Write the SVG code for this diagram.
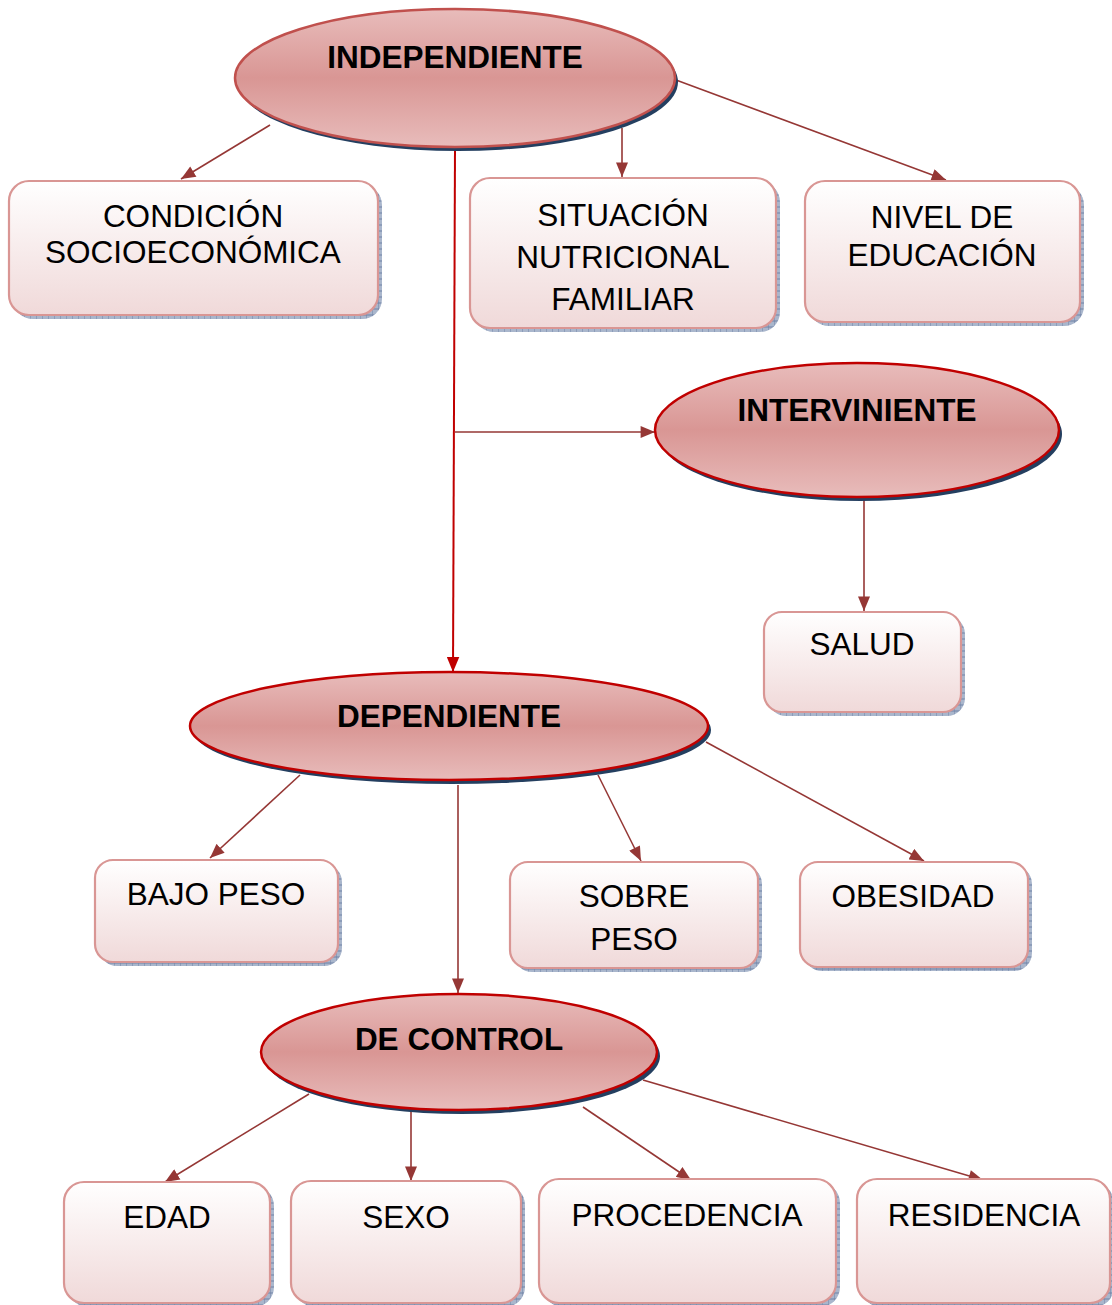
<svg xmlns="http://www.w3.org/2000/svg" width="1112" height="1305" viewBox="0 0 1112 1305">
<defs>
<linearGradient id="eg" x1="0" y1="0" x2="0" y2="1">
<stop offset="0" stop-color="#e8bcbb"/>
<stop offset="0.5" stop-color="#d99694"/>
<stop offset="1" stop-color="#e8bcbb"/>
</linearGradient>
<linearGradient id="bg" x1="0" y1="0" x2="0" y2="1">
<stop offset="0" stop-color="#ffffff"/>
<stop offset="1" stop-color="#f0d9d9"/>
</linearGradient>
<pattern id="hatch" width="6" height="6" patternUnits="userSpaceOnUse">
<rect width="6" height="6" fill="#a9b6cc"/>
<path d="M0 0V6M0 3H6" stroke="#6f83a6" stroke-width="1"/>
</pattern>
<marker id="ah" viewBox="0 0 12 10" refX="12" refY="5" markerWidth="15" markerHeight="12" markerUnits="userSpaceOnUse" orient="auto">
<path d="M0 0L12 5L0 10Z" fill="#953735"/>
</marker>
<marker id="ahr" viewBox="0 0 12 10" refX="12" refY="5" markerWidth="15" markerHeight="13" markerUnits="userSpaceOnUse" orient="auto">
<path d="M0 0L12 5L0 10Z" fill="#c00000"/>
</marker>
</defs>
<style>
.eshadow{fill:#243f60}
.ell{fill:url(#eg);stroke:#c00000;stroke-width:2.5}
.ell1{fill:url(#eg);stroke:#c0504d;stroke-width:2.5}
.bshadow{fill:url(#hatch)}
.box{fill:url(#bg);stroke:#d99694;stroke-width:2.2}
.et{font-family:"Liberation Sans",Arial,sans-serif;font-weight:bold;font-size:31.5px;fill:#000;text-anchor:middle}
.bt{font-family:"Liberation Sans",Arial,sans-serif;font-size:31.5px;fill:#000;text-anchor:middle}
.c{stroke:#953735;stroke-width:1.6;fill:none;marker-end:url(#ah)}
.cr{stroke:#c00000;stroke-width:2;fill:none;marker-end:url(#ahr)}
</style>
<rect width="1112" height="1305" fill="#ffffff"/>

<g id="connectors">
<line class="c" x1="270" y1="125" x2="181" y2="179"/>
<line class="c" x1="622" y1="128" x2="622" y2="177"/>
<line class="c" x1="676" y1="80" x2="946" y2="180"/>
<line class="cr" x1="455" y1="147" x2="453" y2="672"/>
<line class="c" x1="455" y1="432" x2="655" y2="432"/>
<line class="c" x1="864" y1="499" x2="864" y2="611"/>
<line class="c" x1="300" y1="775" x2="210" y2="858"/>
<line class="c" x1="458" y1="785" x2="458" y2="993"/>
<line class="c" x1="598" y1="775" x2="641" y2="861"/>
<line class="c" x1="706" y1="742" x2="924" y2="861"/>
<line class="c" x1="309" y1="1094" x2="165" y2="1182"/>
<line class="c" x1="411" y1="1107" x2="411" y2="1181"/>
<line class="c" x1="583" y1="1107" x2="691" y2="1180"/>
<line class="c" x1="643" y1="1080" x2="983" y2="1180"/>
</g>

<g id="n-independiente">
<ellipse class="eshadow" cx="458" cy="82" rx="220" ry="69"/>
<ellipse class="ell1" cx="455" cy="78" rx="220" ry="69"/>
<text class="et" x="455" y="68">INDEPENDIENTE</text>
</g>

<g id="n-condicion">
<rect class="bshadow" x="13" y="185" width="369" height="134" rx="20"/>
<rect class="box" x="9" y="181" width="369" height="134" rx="20"/>
<text class="bt" x="193" y="227">CONDICIÓN</text>
<text class="bt" x="193" y="263">SOCIOECONÓMICA</text>
</g>

<g id="n-situacion">
<rect class="bshadow" x="474" y="182" width="306" height="150" rx="20"/>
<rect class="box" x="470" y="178" width="306" height="150" rx="20"/>
<text class="bt" x="623" y="226">SITUACIÓN</text>
<text class="bt" x="623" y="268">NUTRICIONAL</text>
<text class="bt" x="623" y="310">FAMILIAR</text>
</g>

<g id="n-nivel">
<rect class="bshadow" x="809" y="185" width="275" height="141" rx="20"/>
<rect class="box" x="805" y="181" width="275" height="141" rx="20"/>
<text class="bt" x="942" y="228">NIVEL DE</text>
<text class="bt" x="942" y="266">EDUCACIÓN</text>
</g>

<g id="n-interviniente">
<ellipse class="eshadow" cx="860" cy="434" rx="202" ry="67"/>
<ellipse class="ell" cx="857" cy="430" rx="202" ry="67"/>
<text class="et" x="857" y="421">INTERVINIENTE</text>
</g>

<g id="n-salud">
<rect class="bshadow" x="768" y="616" width="197" height="100" rx="18"/>
<rect class="box" x="764" y="612" width="197" height="100" rx="18"/>
<text class="bt" x="862" y="655">SALUD</text>
</g>

<g id="n-dependiente">
<ellipse class="eshadow" cx="452" cy="730" rx="259" ry="54"/>
<ellipse class="ell" cx="449" cy="726" rx="259" ry="54"/>
<text class="et" x="449" y="727">DEPENDIENTE</text>
</g>

<g id="n-bajopeso">
<rect class="bshadow" x="99" y="864" width="243" height="102" rx="18"/>
<rect class="box" x="95" y="860" width="243" height="102" rx="18"/>
<text class="bt" x="216" y="905">BAJO PESO</text>
</g>

<g id="n-sobrepeso">
<rect class="bshadow" x="514" y="866" width="248" height="106" rx="18"/>
<rect class="box" x="510" y="862" width="248" height="106" rx="18"/>
<text class="bt" x="634" y="907">SOBRE</text>
<text class="bt" x="634" y="950">PESO</text>
</g>

<g id="n-obesidad">
<rect class="bshadow" x="804" y="866" width="228" height="105" rx="18"/>
<rect class="box" x="800" y="862" width="228" height="105" rx="18"/>
<text class="bt" x="913" y="907">OBESIDAD</text>
</g>

<g id="n-decontrol">
<ellipse class="eshadow" cx="462" cy="1056" rx="198" ry="58"/>
<ellipse class="ell" cx="459" cy="1052" rx="198" ry="58"/>
<text class="et" x="459" y="1050">DE CONTROL</text>
</g>

<g id="n-edad">
<rect class="bshadow" x="68" y="1186" width="206" height="121" rx="20"/>
<rect class="box" x="64" y="1182" width="206" height="121" rx="20"/>
<text class="bt" x="167" y="1228">EDAD</text>
</g>

<g id="n-sexo">
<rect class="bshadow" x="295" y="1185" width="230" height="122" rx="20"/>
<rect class="box" x="291" y="1181" width="230" height="122" rx="20"/>
<text class="bt" x="406" y="1228">SEXO</text>
</g>

<g id="n-procedencia">
<rect class="bshadow" x="543" y="1183" width="297" height="124" rx="20"/>
<rect class="box" x="539" y="1179" width="297" height="124" rx="20"/>
<text class="bt" x="687" y="1226">PROCEDENCIA</text>
</g>

<g id="n-residencia">
<rect class="bshadow" x="861" y="1183" width="253" height="124" rx="20"/>
<rect class="box" x="857" y="1179" width="253" height="124" rx="20"/>
<text class="bt" x="984" y="1226">RESIDENCIA</text>
</g>
</svg>
